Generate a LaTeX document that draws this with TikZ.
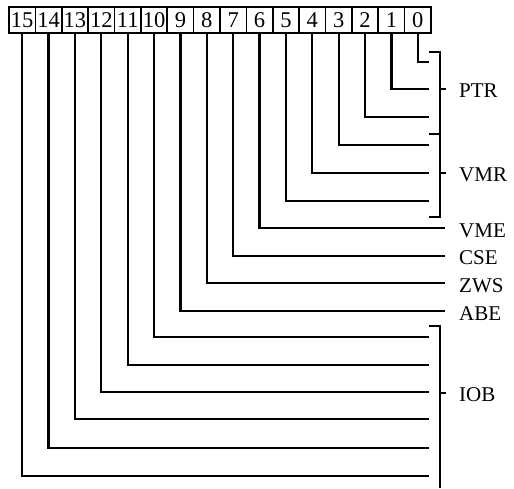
\documentclass[tikz,border=0pt]{standalone}
\usepackage{fontspec}
\setmainfont{Liberation Serif}
\begin{document}
\begin{tikzpicture}[x=1pt,y=-1pt,
  bitbox/.style={draw,line width=1.6pt,minimum width=26.375pt,minimum height=26pt,inner sep=0pt,font=\fontsize{22.5}{22.5}\selectfont},
  wire/.style={line width=2.2pt},
  lbl/.style={anchor=base west,inner sep=0pt,font=\fontsize{21}{21}\selectfont}]
\useasboundingbox (0,0) rectangle (514,488);
% bit boxes
\foreach \i in {0,...,15}{
  \node[bitbox] (b\i) at ({22.2+(15-\i)*26.375},20) {\i};
}
% line end coordinates
\foreach \i/\y in {0/62,1/89,2/117,3/145,4/173,5/201,10/337,11/365,12/392,13/419,14/448,15/476}{
  \coordinate (e\i) at (429,\y);
}
\foreach \i/\y in {6/228,7/256,8/283,9/311}{
  \coordinate (e\i) at (445,\y);
}
\foreach \i in {0,...,15}{
  \draw[wire] (b\i.south) |- (e\i);
}
% brackets
\coordinate (pt) at (429,52);
\coordinate (pm) at (429,134);
\coordinate (pb) at (429,217);
\coordinate (it) at (429,326);
\coordinate (ib) at (440,488);
\draw[wire] (pt) -| (pb -| 440,0) coordinate (pbr) -- (pb);
\draw[wire] (pm) -- (pm -| 440,0);
\draw[wire] (440,89) coordinate (ptrk) -- (446,89) coordinate (ptrt);
\draw[wire] (440,173) coordinate (vmrk) -- (446,173) coordinate (vmrt);
\draw[wire] (it) -| (ib);
\draw[wire] (440,393) coordinate (iobk) -- (446,393) coordinate (iobt);
% labels
\node[lbl] (lptr) at (459,97) {PTR};
\node[lbl] (lvmr) at (459,181) {VMR};
\node[lbl] (lvme) at (459,237) {VME};
\node[lbl] (lcse) at (459,264) {CSE};
\node[lbl] (lzws) at (459,292) {ZWS};
\node[lbl] (labe) at (459,320) {ABE};
\node[lbl] (liob) at (459,401) {IOB};
\end{tikzpicture}
\end{document}
